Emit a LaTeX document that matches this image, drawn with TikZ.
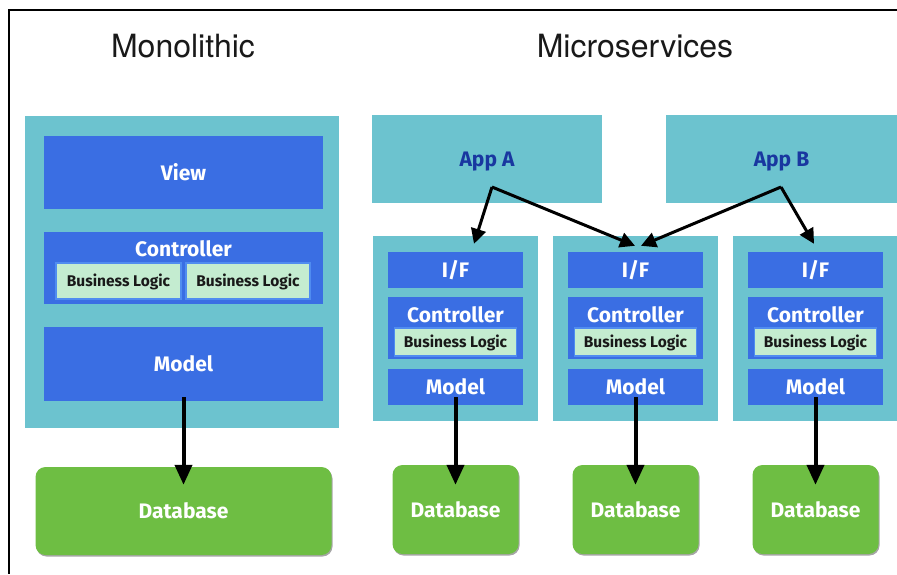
\documentclass[tikz,border=0pt]{standalone}
\usepackage{fontspec}
\setmainfont{TeX Gyre Heros}
\newfontfamily\boxfont{Fira Sans}
\usetikzlibrary{arrows.meta,shadows}

\definecolor{tealbg}{RGB}{108,195,207}
\definecolor{layerblue}{RGB}{58,110,227}
\definecolor{logicgreen}{RGB}{196,236,208}
\definecolor{logicedge}{RGB}{80,140,240}
\definecolor{dbgreen}{RGB}{110,190,67}
\definecolor{appblue}{RGB}{25,55,160}

\tikzset{
  boxsize/.style 2 args={minimum width=#1pt, minimum height=#2pt},
  container/.style={fill=tealbg, inner sep=0pt},
  layer/.style={fill=layerblue, text=white, inner sep=0pt,
    text height=15pt, text depth=0pt,
    font=\boxfont\bfseries\fontsize{21}{25}\selectfont},
  layertext/.style={text=white, inner sep=0pt,
    text height=15pt, text depth=0pt,
    font=\boxfont\bfseries\fontsize{21}{25}\selectfont},
  logic/.style={fill=logicgreen, draw=logicedge, line width=1.5pt, inner sep=0pt,
    text height=11pt, text depth=0pt,
    text=black!90, font=\boxfont\bfseries\fontsize{15.5}{18}\selectfont},
  db/.style={fill=dbgreen, rounded corners=10pt, text=white, inner sep=0pt,
    text height=15pt, text depth=0pt,
    font=\boxfont\bfseries\fontsize{21}{25}\selectfont,
    drop shadow={shadow xshift=1pt, shadow yshift=-1.5pt, fill=black, opacity=0.35}},
  app/.style={container, text=appblue,
    text height=15pt, text depth=0pt,
    font=\boxfont\bfseries\fontsize{21}{25}\selectfont},
  flow/.style={-{Triangle[length=20pt,width=17pt]}, line width=4pt},
  call/.style={-{Triangle[length=15pt,width=15pt]}, line width=3pt},
  title/.style={text=black!90, font=\fontsize{32}{36}\selectfont}
}

\begin{document}
\begin{tikzpicture}[x=1pt,y=-1pt]
  \useasboundingbox (0,0) rectangle (897,574);

  % frame
  \draw[line width=2.5pt] (897,10) -- (9,10) -- (9,574);

  % titles
  \node[title] (mono-title) at (183,46) {Monolithic};
  \node[title] (micro-title) at (635,46) {Microservices};

  % monolithic
  \node[container, boxsize={314}{312}] (mono) at (182,272) {};
  \node[layer, boxsize={279}{73}] (view-m) at (183.5,172.5) {View};
  \node[layer, boxsize={279}{72}] (ctrl-m) at (183.5,268) {};
  \node[layertext] (ctrl-m-text) at (183.5,249) {Controller};
  \node[logic, boxsize={125}{36}] (logic-m1) at (118.5,281) {Business Logic};
  \node[logic, boxsize={124}{36}] (logic-m2) at (248,281) {Business Logic};
  \node[layer, boxsize={279}{74}] (model-m) at (183.5,364) {Model};
  \node[db, boxsize={296}{88}] (db-m) at (183.5,511) {Database};

  % apps
  \node[app, boxsize={230}{88}] (appA) at (487,159) {App A};
  \node[app, boxsize={231}{88}] (appB) at (781.5,159) {App B};
  \coordinate (appA-out) at (492,187);
  \coordinate (appB-out) at (781,187);

  % services
  \foreach \i/\x in {1/455.5, 2/635.5, 3/815.5} {
    \node[container, boxsize={165}{185}] (svc\i) at (\x,328.5) {};
    \node[layer, boxsize={135}{36}] (if\i) at (\x,270) {I/F};
    \node[layer, boxsize={135}{62}] (ctrl\i) at (\x,328) {};
    \node[layertext] (ctrl\i-text) at (\x,315) {Controller};
    \node[logic, boxsize={122}{28}] (logic\i) at (\x,342) {Business Logic};
    \node[layer, boxsize={135}{36}] (model\i) at (\x,387) {Model};
    \node[db, boxsize={126}{89}] (db\i) at (\x,509.5) {Database};
  }

  % edges
  \path[flow, shorten <=-4pt, shorten >=-18pt] (model-m.south) edge (db-m.north);
  \foreach \i in {1,2,3} {
    \path[flow, shorten <=-8pt, shorten >=-20pt] (model\i.south) edge (db\i.north);
  }
  \path[call] (appA-out) edge ([xshift=18.5pt,yshift=-8pt]svc1.north);
  \path[call] (appA-out) edge ([xshift=-0.5pt,yshift=-10pt]svc2.north);
  \path[call] (appB-out) edge ([xshift=5.5pt,yshift=-10pt]svc2.north);
  \path[call] (appB-out) edge ([xshift=-1.5pt,yshift=-8pt]svc3.north);
\end{tikzpicture}
\end{document}
